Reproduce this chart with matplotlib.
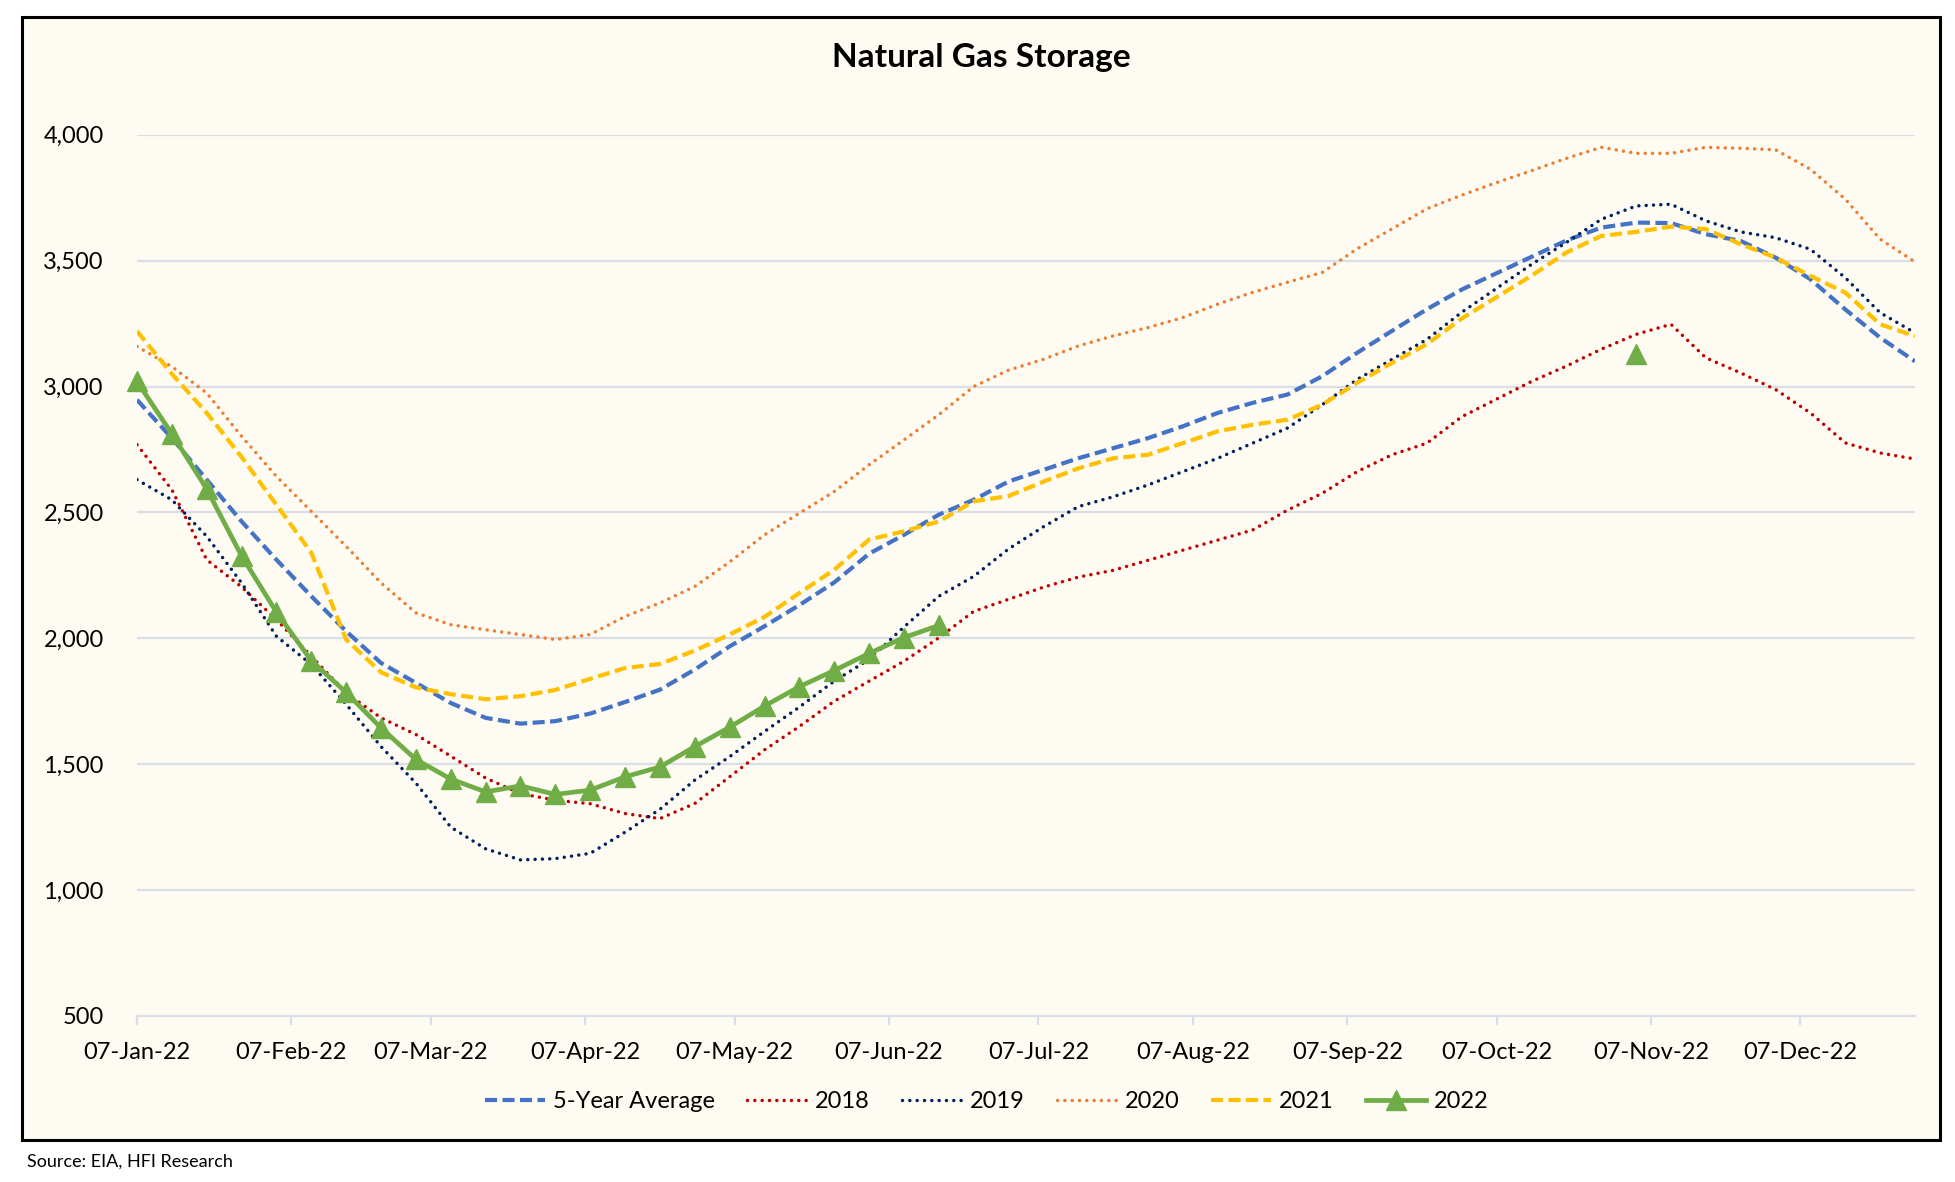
import numpy as np
import pandas as pd
import matplotlib
matplotlib.use("Agg")
import matplotlib.pyplot as plt
import matplotlib.dates as mdates
from matplotlib.patches import Rectangle
from matplotlib.ticker import FuncFormatter

plt.rcParams['font.family'] = ['Lato', 'DejaVu Sans']

nan = np.nan

# semanas (viernes) de 2022
semanas = pd.date_range("2022-01-07", periods=52, freq="7D")

prom_5 = [2947, 2795, 2630, 2464, 2312, 2167, 2028, 1902, 1823, 1743, 1684, 1661, 1671,
          1701, 1747, 1796, 1876, 1968, 2048, 2132, 2222, 2336, 2411, 2491, 2550, 2623,
          2669, 2715, 2755, 2795, 2842, 2895, 2935, 2968, 3041, 3134, 3221, 3307, 3385,
          3450, 3515, 3580, 3631, 3651, 3649, 3605, 3578, 3512, 3426, 3306, 3194, 3100]
y2018 = [2769, 2590, 2312, 2204, 2074, 1929, 1783, 1684, 1618, 1532, 1445, 1383, 1357,
         1343, 1304, 1284, 1344, 1450, 1557, 1650, 1750, 1830, 1909, 2002, 2107, 2155,
         2203, 2243, 2270, 2310, 2350, 2390, 2430, 2509, 2576, 2662, 2729, 2775, 2880,
         2950, 3020, 3081, 3148, 3207, 3247, 3114, 3054, 2988, 2895, 2776, 2736, 2712]
y2019 = [2630, 2550, 2405, 2220, 2008, 1896, 1738, 1570, 1425, 1250, 1164, 1120, 1125,
         1146, 1230, 1321, 1437, 1530, 1630, 1727, 1830, 1916, 2045, 2167, 2246, 2355,
         2443, 2523, 2562, 2609, 2662, 2715, 2775, 2835, 2928, 3028, 3108, 3187, 3295,
         3390, 3485, 3572, 3664, 3717, 3724, 3658, 3614, 3591, 3545, 3432, 3293, 3213]
y2020 = [3159, 3079, 2974, 2802, 2643, 2504, 2365, 2220, 2101, 2054, 2034, 2015, 1995,
         2015, 2087, 2140, 2206, 2303, 2411, 2497, 2583, 2689, 2788, 2888, 3000, 3065,
         3108, 3161, 3201, 3234, 3274, 3327, 3374, 3414, 3453, 3547, 3626, 3706, 3760,
         3810, 3857, 3906, 3950, 3926, 3926, 3950, 3946, 3940, 3863, 3744, 3585, 3495]
y2021 = [3220, 3050, 2895, 2720, 2530, 2340, 1995, 1865, 1805, 1778, 1758, 1770, 1795,
         1839, 1882, 1898, 1951, 2015, 2085, 2180, 2272, 2392, 2425, 2464, 2544, 2565,
         2622, 2675, 2715, 2729, 2775, 2822, 2848, 2868, 2928, 3015, 3094, 3168, 3270,
         3355, 3440, 3532, 3598, 3614, 3635, 3625, 3565, 3512, 3439, 3373, 3247, 3200]
y2022 = ([3020, 2812, 2593, 2327, 2104, 1911, 1785, 1644, 1519, 1441, 1390, 1414, 1380,
          1397, 1450, 1489, 1570, 1647, 1731, 1808, 1872, 1940, 2003, 2051]
         + [nan] * 19 + [3130] + [nan] * 8)

meses = [pd.Timestamp(2022, m, 7) for m in range(1, 13)]
niveles = [500, 1000, 1500, 2000, 2500, 3000, 3500, 4000]

W, H = 1956, 1182
crema = "#FEFBF2"
gris = "#D9DEE7"

fig = plt.figure(figsize=(W / 100, H / 100), dpi=100)
fig.patch.set_facecolor("white")
fig.patches.append(Rectangle((22 / W, 1 - 1140 / H), (1940 - 22) / W, (1140 - 17) / H,
                             transform=fig.transFigure, facecolor=crema,
                             edgecolor="black", lw=2.2, zorder=-1))

ax = fig.add_axes([137 / W, 1 - 1016 / H, (1915 - 137) / W, (1016 - 134.7) / H])
ax.set_facecolor(crema)

punto = (0, (0.01, 2.1))
guion = (0, (2.9, 1.3))

ax.plot(semanas, prom_5, color="#4472C4", lw=3, linestyle=guion, label="5-Year Average")
ax.plot(semanas, y2018, color="#C00000", lw=2.5, linestyle=punto,
        dash_capstyle="round", label="2018")
ax.plot(semanas, y2019, color="#002060", lw=2.5, linestyle=punto,
        dash_capstyle="round", label="2019")
ax.plot(semanas, y2020, color="#ED7D31", lw=2.5, linestyle=punto,
        dash_capstyle="round", label="2020")
ax.plot(semanas, y2021, color="#FFC000", lw=3, linestyle=guion, label="2021")
ax.plot(semanas, y2022, color="#70AD47", lw=3.4, marker="^", markersize=14,
        label="2022", clip_on=False, zorder=5)

ax.set_xlim(semanas[0], semanas[-1])
ax.set_ylim(500, 4000)
ax.set_yticks(niveles)
ax.yaxis.set_major_formatter(FuncFormatter(lambda v, p: f"{v:,.0f}"))
ax.set_xticks(meses)
ax.xaxis.set_major_formatter(mdates.DateFormatter("%d-%b-%y"))

ax.grid(axis="y", color=gris, lw=1.6)
ax.set_axisbelow(True)
for lado in ["top", "right", "left"]:
    ax.spines[lado].set_visible(False)
ax.spines["bottom"].set_color(gris)
ax.spines["bottom"].set_linewidth(1.6)
ax.tick_params(axis="y", length=0, pad=24, labelsize=17)
ax.tick_params(axis="x", length=6.5, width=1.6, color=gris, pad=12, labelsize=17)

fig.text(981 / W, 1 - 57 / H, "Natural Gas Storage", ha="center", va="center",
         fontsize=24, fontweight="bold")
fig.legend(loc="center", bbox_to_anchor=(987 / W, 1 - 1102 / H), ncol=6, frameon=False,
           fontsize=17, handlelength=2.54, handletextpad=0.34, columnspacing=1.35)
fig.text(27 / W, 1 - 1162 / H, "Source: EIA, HFI Research", ha="left", va="center",
         fontsize=13)

fig.savefig("out.png", dpi=100)
